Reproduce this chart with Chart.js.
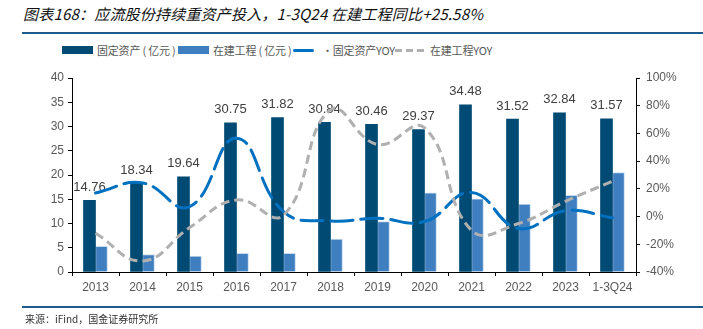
<!DOCTYPE html>
<html>
<head>
<meta charset="utf-8">
<script src="https://cdn.jsdelivr.net/npm/chart.js@4"></script>
<style>
  body { margin: 0; width: 703px; height: 329px; background: #fff; position: relative; overflow: hidden; font-family: "Noto Sans CJK SC", sans-serif; }
  #title { position: absolute; left: 23px; top: 3px; font-size: 15px; font-style: italic; color: #111; letter-spacing: 0.2px; }
  .rule { position: absolute; left: 22px; right: 0; height: 2px; background: #1f5b8a; }
  #legend { position: absolute; top: 42px; left: 62px; font-size: 11px; color: #595959; white-space: nowrap; letter-spacing: -0.2px; }
  #legend span { position: absolute; top: 0; }
  .sw { position: absolute; }
  #source { position: absolute; left: 25px; top: 311px; font-size: 10px; color: #333; }
  #wrap { position: absolute; left: 0; top: 0; width: 703px; height: 329px; }
</style>
</head>
<body>
<div id="title">图表168：应流股份持续重资产投入，1-3Q24 在建工程同比+25.58%</div>
<div class="rule" style="top:32px"></div>
<div id="legend">
  <div class="sw" style="left:0;top:4px;width:31px;height:8px;background:#004a73"></div>
  <span style="left:35px">固定资产 ( 亿元 )</span>
  <div class="sw" style="left:116px;top:4px;width:31px;height:8px;background:#3f7fbf"></div>
  <span style="left:151px">在建工程 ( 亿元 )</span>
  <div class="sw" style="left:231px;top:7px;width:21px;height:3px;background:#0070c0;border-radius:2px"></div>
  <span style="left:260px">·固定资产YOY</span>
  <div class="sw" style="left:333px;top:7px;width:7px;height:3px;background:#b0b0b0"></div>
  <div class="sw" style="left:344px;top:7px;width:7px;height:3px;background:#b0b0b0"></div>
  <div class="sw" style="left:355px;top:7px;width:7px;height:3px;background:#b0b0b0"></div>
  <span style="left:368px">在建工程YOY</span>
</div>
<div id="wrap"><canvas id="myChart"></canvas></div>
<div class="rule" style="top:306px"></div>
<div id="source">来源：iFind，国金证券研究所</div>

<script>
const years = ['2013', '2014', '2015', '2016', '2017', '2018', '2019', '2020', '2021', '2022', '2023', '1-3Q24'];
const fixedAssets = [14.76, 18.34, 19.64, 30.75, 31.82, 30.84, 30.46, 29.37, 34.48, 31.52, 32.84, 31.57];
const construction = [5.3, 3.6, 3.3, 3.85, 3.85, 6.8, 10.4, 16.3, 15.1, 14.0, 15.8, 20.5];
const fixedYoy = [17, 24.3, 7.1, 56.6, 3.5, -3.1, -1.2, -3.6, 17.4, -8.6, 4.2, -0.9];
const constructionYoy = [-12, -32, -8, 12, 1, 77, 52, 64, -10, -5, 11, 25.58];
const leftTicks = [0, 5, 10, 15, 20, 25, 30, 35, 40];
const rightTicks = [-40, -20, 0, 20, 40, 60, 80, 100];

// 柱子上方的数值
const barLabels = {
  id: 'barLabels',
  afterDatasetDraw(chart, args) {
    if (args.index !== 0) return;
    const ctx = chart.ctx;
    ctx.save();
    ctx.font = '13px "Liberation Sans", Arial, sans-serif';
    ctx.fillStyle = '#404040';
    ctx.textAlign = 'center';
    ctx.textBaseline = 'middle';
    args.meta.data.forEach((bar, i) => {
      ctx.fillText(fixedAssets[i].toFixed(2), bar.x, bar.y - 13);
    });
    ctx.restore();
  }
};

const tickFont = { family: '"Liberation Sans", Arial, sans-serif', size: 12 };

new Chart(document.getElementById('myChart'), {
  type: 'bar',
  data: {
    labels: years,
    datasets: [
      {
        label: '固定资产（亿元）',
        data: fixedAssets,
        backgroundColor: '#004a73',
        yAxisID: 'y',
        order: 2,
        barThickness: 12
      },
      {
        label: '在建工程（亿元）',
        data: construction,
        backgroundColor: '#3f7fbf',
        borderColor: '#c9dcef',
        borderWidth: { top: 1, left: 1, right: 1, bottom: 0 },
        yAxisID: 'y',
        order: 2,
        barThickness: 12
      },
      {
        type: 'line',
        label: '固定资产YOY',
        data: fixedYoy,
        borderColor: '#0070c0',
        borderWidth: 3,
        borderDash: [22, 8],
        borderCapStyle: 'round',
        tension: 0.45,
        pointRadius: 0,
        fill: false,
        yAxisID: 'y1',
        order: 1
      },
      {
        type: 'line',
        label: '在建工程YOY',
        data: constructionYoy,
        borderColor: '#b0b0b0',
        borderWidth: 3,
        borderDash: [9, 5],
        tension: 0.45,
        pointRadius: 0,
        fill: false,
        yAxisID: 'y1',
        order: 0
      }
    ]
  },
  options: {
    responsive: true,
    maintainAspectRatio: false,
    animation: false,
    layout: { padding: { top: 78, left: 0, right: 0, bottom: 0 } },
    plugins: { legend: { display: false }, tooltip: { enabled: false } },
    datasets: { bar: { barPercentage: 0.95, categoryPercentage: 0.55 } },
    scales: {
      x: {
        grid: { drawOnChartArea: false, tickLength: 4, color: '#000', offset: true },
        border: { color: '#000', width: 1 },
        ticks: { color: '#595959', font: tickFont, padding: 4, maxRotation: 0 },
        afterFit(scale) { scale.height = 57; }
      },
      y: {
        position: 'left',
        min: 0,
        max: 40,
        afterBuildTicks(scale) { scale.ticks = leftTicks.map(v => ({ value: v })); },
        grid: { drawOnChartArea: false, tickLength: 4, color: '#000' },
        border: { color: '#000', width: 1 },
        ticks: { color: '#595959', font: tickFont, padding: 4 },
        afterFit(scale) { scale.width = 72; }
      },
      y1: {
        position: 'right',
        min: -40,
        max: 100,
        afterBuildTicks(scale) { scale.ticks = rightTicks.map(v => ({ value: v })); },
        grid: { drawOnChartArea: false, tickLength: 4, color: '#000' },
        border: { color: '#000', width: 1 },
        ticks: { color: '#595959', font: tickFont, padding: 6, callback: v => v + '%' },
        afterFit(scale) { scale.width = 67; }
      }
    }
  },
  plugins: [barLabels]
});
</script>
</body>
</html>
